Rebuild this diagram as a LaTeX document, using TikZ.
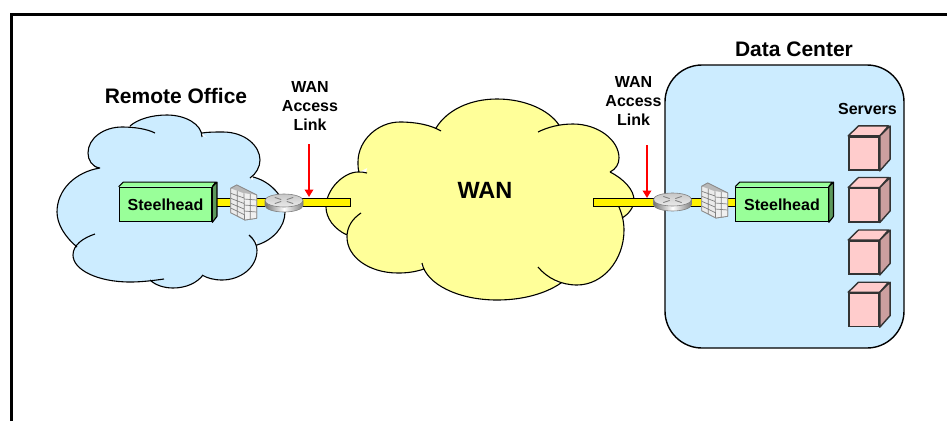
\documentclass[tikz,border=0pt]{standalone}
\usepackage{fontspec}
\setmainfont{Liberation Sans}
\usetikzlibrary{arrows.meta,calc}
\definecolor{skyfill}{HTML}{CCECFF}
\definecolor{wanfill}{HTML}{FFFF99}
\definecolor{shfront}{HTML}{99FF99}
\definecolor{shside}{HTML}{5C995C}
\definecolor{srvfront}{HTML}{FFCCCC}
\definecolor{srvside}{HTML}{CC9F9F}
\tikzset{
  lobe/.style={draw=black,line width=1.1pt,line join=round},
  lbl/.style={font=\fontsize{16}{19}\selectfont\bfseries,text=black,align=center,inner sep=0pt},
  biglbl/.style={font=\fontsize{21}{25}\selectfont\bfseries,text=black,inner sep=0pt},
  shbox/.style={draw=black,line width=1.3pt,fill=shfront,minimum width=92.4pt,minimum height=34.4pt,inner sep=0pt,font=\fontsize{16}{19}\selectfont\bfseries},
  shextra/.style={draw=black,line width=1.1pt,line join=round},
  srvbox/.style={draw=black!80,line width=1.6pt,fill=srvfront,minimum width=30pt,minimum height=33.4pt,inner sep=0pt},
  srvextra/.style={draw=black!80,line width=1.4pt,line join=round},
  barout/.style={draw=black,line width=9.4pt},
  barin/.style={draw=yellow,line width=7pt},
  redarrow/.style={draw=red,line width=1.8pt,-{Triangle[width=8.5pt,length=7.5pt]}},
  frameline/.style={draw=black,line width=3pt,line join=miter},
  dcbox/.style={draw=black,line width=1.4pt,fill=skyfill,rounded corners=37pt},
  brick/.style={draw=black!50,line width=.7pt},
  rtmark/.style={draw=black!50,line width=.9pt,line cap=round}
}
\newcommand{\leftlobes}{
 (100,168) .. controls (92,167) and (88,160) .. (88,153) .. controls (88,138) and (104,127) .. (122,127) .. controls (135,127) and (147,129) .. (155,133)
 (130,126) .. controls (138,119) and (152,115) .. (167,115) .. controls (185,115) and (202,124) .. (202,137)
 (202,133) .. controls (208,132) and (215,132) .. (223,132) .. controls (245,132) and (260,146) .. (260,160) .. controls (260,167) and (256,174) .. (250,178)
 (253,177) .. controls (270,181) and (285,197) .. (285,212) .. controls (285,227) and (273,240) .. (257,245)
 (249,235) .. controls (254,239) and (257,245) .. (257,250) .. controls (257,268) and (240,280) .. (222,280) .. controls (214,280) and (207,278) .. (202,275)
 (203,275) .. controls (197,283) and (186,288) .. (173,288) .. controls (164,288) and (155,285) .. (150,280)
 (164,279) .. controls (150,281) and (140,282) .. (130,282) .. controls (98,282) and (73,270) .. (73,255) .. controls (73,245) and (83,238) .. (95,234)
 (77,247) .. controls (65,237) and (57,224) .. (57,212) .. controls (57,190) and (75,172) .. (100,168)
}
\newcommand{\wanlobes}{
 (436,128) .. controls (447,110) and (470,99) .. (497,99) .. controls (525,99) and (549,110) .. (559,125)
 (538,132) .. controls (548,127) and (560,124) .. (573,124) .. controls (598,124) and (619,140) .. (619,158) .. controls (619,164) and (616,169) .. (610,172)
 (610,172) .. controls (624,179) and (634,190) .. (634,200) .. controls (634,207) and (629,214) .. (622,218)
 (618,205) .. controls (622,213) and (624,222) .. (624,230) .. controls (624,260) and (603,285) .. (577,285) .. controls (561,285) and (547,278) .. (538,267)
 (561,283) .. controls (545,294) and (522,300) .. (497,300) .. controls (458,300) and (426,284) .. (422,263)
 (424,269) .. controls (415,272) and (407,273) .. (398,273) .. controls (369,273) and (347,257) .. (347,237) .. controls (347,227) and (352,219) .. (361,213)
 (347,235) .. controls (334,229) and (326,218) .. (326,207) .. controls (326,189) and (344,172) .. (358,172) .. controls (361,172) and (364,172) .. (367,173)
 (359,172) .. controls (358,169) and (358,165) .. (358,162) .. controls (358,140) and (378,122) .. (400,122) .. controls (416,122) and (431,125) .. (441,131)
}
\newcommand{\shfaces}[1]{
  \fill[shfront] (#1.north west) -- ++(4.6,-4.6) -- ++(92.4,0) -- (#1.north east) -- cycle;
  \draw[shextra] (#1.north west) -- ++(4.6,-4.6) -- ++(92.4,0) -- (#1.north east);
  \draw[shextra,fill=shside] (#1.north east) -- ++(4.6,-4.6) -- ++(0,34.4) -- (#1.south east) -- cycle;
}
\newcommand{\srvfaces}[1]{
  \draw[srvextra,fill=srvfront] (#1.north west) -- ++(10.3,-10) -- ++(30,0) -- (#1.north east) -- cycle;
  \draw[srvextra,fill=srvside] (#1.north east) -- ++(10.3,-10) -- ++(0,33.4) -- (#1.south east) -- cycle;
  \node[srvbox] at (#1) {};
}
\newcommand{\firewall}[2]{
 \begin{scope}[shift={(#1,#2)}]
  \draw[draw=black!45,line width=.8pt,fill=black!8,line join=round] (230.7,188.3) -- (236.7,185) -- (256.7,195) -- (256.7,218.3) -- (245,220) -- (230.7,212.7) -- cycle;
  \fill[white!92!black] (230.7,188.3) -- (244,193.3) -- (244.5,220) -- (230.7,212.7) -- cycle;
  \fill[black!28] (230.7,188.3) -- (236.7,185) -- (256.7,195) -- (244,193.3) -- cycle;
  \fill[black!6] (244,193.3) -- (256.7,195) -- (256.7,218.3) -- (244.5,220) -- cycle;
  \draw[brick] (230.7,193.3) -- (244,198) (230.7,198.3) -- (244,203.5) (230.7,203.3) -- (244,209) (230.7,208) -- (244,214.5)
               (237.3,190.8) -- (237.3,216.3) (244,193.3) -- (244.5,220)
               (244,199) -- (256.7,200) (244,205) -- (256.7,206) (244,211) -- (256.7,212) (250.3,194) -- (250.3,219.3);
  \draw[draw=black!45,line width=.8pt,line join=round] (230.7,188.3) -- (236.7,185) -- (256.7,195) -- (256.7,218.3) -- (245,220) -- (230.7,212.7) -- cycle;
 \end{scope}
}
\newcommand{\routerdisc}[2]{
 \begin{scope}[shift={(#1,#2)}]
  \shade[left color=black!55,right color=black!50,middle color=white] (265,200.5) -- (265,205.5) arc[x radius=19,y radius=6.5,start angle=180,end angle=0] -- (303,200.5) -- cycle;
  \shade[top color=black!22,bottom color=black!8] (284,200.5) ellipse[x radius=19,y radius=6.5];
  \draw[black!50,line width=.6pt] (284,200.5) ellipse[x radius=19,y radius=6.5];
  \draw[black!50,line width=.6pt] (265,200.5) -- (265,205.5) arc[x radius=19,y radius=6.5,start angle=180,end angle=0] -- (303,200.5);
  \draw[rtmark] (275,197.5) -- (281,199.5) (293,197.5) -- (287,199.5) (275,203.5) -- (281,201.5) (293,203.5) -- (287,201.5);
 \end{scope}
}
\begin{document}
\begin{tikzpicture}[x=1pt,y=-1pt]
\useasboundingbox (0,0) rectangle (947,421);
\coordinate (frameBL) at (11.5,421);
\coordinate (frameTL) at (11.5,14.5);
\coordinate (frameTR) at (947,14.5);
\coordinate (barL) at (351,202.2);
\coordinate (barR) at (593,202.2);
\coordinate (arrL1) at (309,144);
\coordinate (arrL2) at (309,197);
\coordinate (arrR1) at (647,145);
\coordinate (arrR2) at (647,198);
\draw[frameline] (frameBL) -- (frameTL) -- (frameTR);
% clouds
\fill[skyfill] \leftlobes;
\fill[skyfill] (95,170)--(100,140)--(130,130)--(170,120)--(200,135)--(240,150)--(250,178)--(275,200)--(275,225)--(250,245)--(245,265)--(203,277)--(170,284)--(130,279)--(85,255)--(77,245)--(65,210)--(75,185)--cycle;
\draw[lobe] \leftlobes;
\fill[wanfill] \wanlobes;
\fill[wanfill] (365,175)--(375,145)--(400,128)--(440,128)--(470,105)--(530,105)--(560,128)--(600,140)--(612,160)--(610,172)--(628,195)--(622,218)--(618,255)--(590,275)--(561,280)--(500,295)--(440,280)--(424,265)--(385,265)--(355,240)--(347,235)--(332,210)--(340,185)--cycle;
\draw[lobe] \wanlobes;
% data centre
\draw[dcbox] (665,65) rectangle (904,348);
% steelhead nodes
\node[shbox] (shA) at (165.5,204.5) {Steelhead};
\node[shbox] (shB) at (782,204.5) {Steelhead};
% bars
\draw[barout] (shA.east |- barL) -- (barL);
\draw[barin,shorten >=1.2pt] (shA.east |- barL) -- (barL);
\draw[barout] (barR) -- (shB.west |- barR);
\draw[barin,shorten <=1.2pt] (barR) -- (shB.west |- barR);
\shfaces{shA}
\shfaces{shB}
\node[shbox] at (shA) {Steelhead};
\node[shbox] at (shB) {Steelhead};
% firewalls & routers
\firewall{0}{0}
\firewall{471}{-2}
\routerdisc{0}{0}
\routerdisc{388.5}{-1}
% servers
\node[srvbox] (srvA) at (864,153.4) {};
\node[srvbox] (srvB) at (864,205) {};
\node[srvbox] (srvC) at (864,257.5) {};
\node[srvbox] (srvD) at (864,309.7) {};
\srvfaces{srvA}\srvfaces{srvB}\srvfaces{srvC}\srvfaces{srvD}
% arrows
\draw[redarrow] (arrL1) -- (arrL2);
\draw[redarrow] (arrR1) -- (arrR2);
% labels
\node[biglbl] (lblRO) at (176,96) {Remote Office};
\node[biglbl] (lblDC) at (794,49) {Data Center};
\node[lbl,font=\fontsize{23.5}{28}\selectfont\bfseries] (lblWAN) at (485,190) {WAN};
\node[lbl] (lblSrv) at (867.5,108.5) {Servers};
\node[lbl] (lblLinkA) at (310,105.5) {WAN\\Access\\Link};
\node[lbl] (lblLinkB) at (633.5,101) {WAN\\Access\\Link};
\end{tikzpicture}
\end{document}
